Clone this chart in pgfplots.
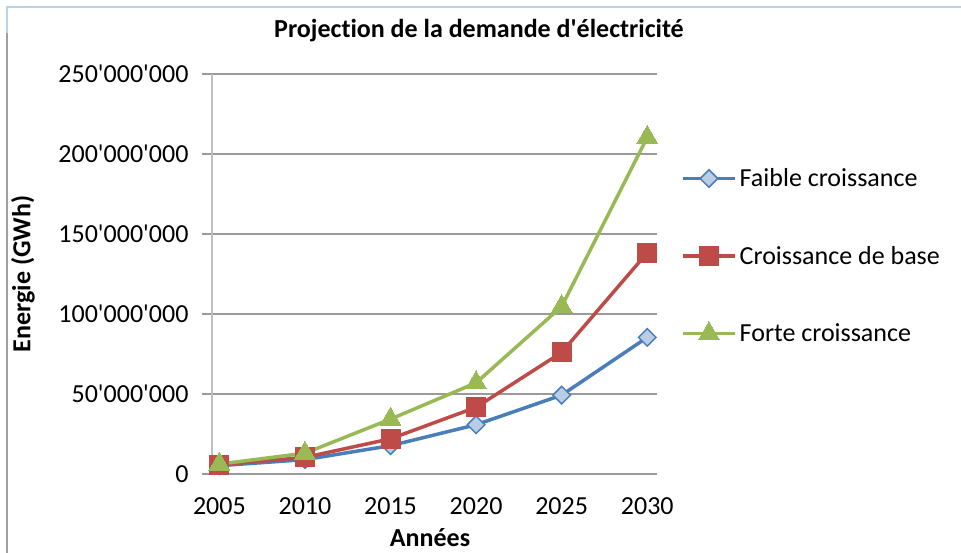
\documentclass[border=0pt]{standalone}
\usepackage{pgfplots}
\pgfplotsset{compat=1.18}
\usepackage{fontspec}
\setmainfont{Carlito}[Ligatures={NoCommon}]
\definecolor{sblue}{HTML}{4A7EBB}
\definecolor{sred}{HTML}{BE4B48}
\definecolor{sgreen}{HTML}{98B954}
\definecolor{dfill}{HTML}{B9CDE5}
\definecolor{gridc}{HTML}{9A9A9A}
\definecolor{axc}{HTML}{BFBFBF}
\definecolor{frameblue}{HTML}{B8D4E8}
\definecolor{framegray}{HTML}{A0A0A0}
\begin{document}
\begin{tikzpicture}[font=\fontsize{26bp}{31bp}\selectfont]
\path[use as bounding box] (0,0) rectangle (961bp,-553bp);
\draw[frameblue, line width=2bp] (6bp,-7bp) -- (961bp,-7bp);
\draw[frameblue, line width=2bp] (7bp,-7bp) -- (7bp,-33bp);
\draw[framegray, line width=2bp] (7bp,-33bp) -- (7bp,-553bp);
\begin{axis}[
  at={(212bp,-474bp)}, anchor=south west,
  scale only axis, width=445bp, height=400bp,
  xmin=2004.57, xmax=2030.57, ymin=0, ymax=250000000,
  clip=false,
  axis y line*=left, axis x line*=bottom,
  axis line style={-},
  y axis line style={draw=axc, line width=2.5bp},
  x axis line style={draw=gridc, line width=1.6bp},
  xtick={2005,2010,2015,2020,2025,2030},
  xticklabels={2005,2010,2015,2020,2025,2030},
  xtick style={draw=none},
  ytick={0,50000000,100000000,150000000,200000000,250000000},
  yticklabels={0,50\textquotesingle 000\textquotesingle 000,100\textquotesingle 000\textquotesingle 000,150\textquotesingle 000\textquotesingle 000,200\textquotesingle 000\textquotesingle 000,250\textquotesingle 000\textquotesingle 000},
  scaled y ticks=false,
  ytick align=outside, major tick length=10bp,
  ytick style={draw=gridc, line width=1.6bp},
  ymajorgrids, grid style={draw=gridc, line width=1.6bp},
  yticklabel style={xshift=-10bp},
  xticklabel style={yshift=-20bp},
  title={Projection de la demande d\textquotesingle électricité},
  title style={at={(axis description cs:0.6,1.115)}, anchor=center, yshift=-9bp, font=\bfseries\fontsize{26bp}{31bp}\selectfont},
  xlabel={Années},
  xlabel style={at={(axis description cs:0.49,-0.16)}, anchor=center, font=\bfseries\fontsize{26bp}{31bp}\selectfont},
  ylabel={Energie (GWh)},
  ylabel style={at={(axis description cs:-0.425,0.5)}, anchor=center, rotate=0, font=\bfseries\fontsize{26bp}{31bp}\selectfont},
  legend style={draw=none, fill=none, at={(1.054,0.545)}, anchor=west, row sep=52bp, inner sep=0pt,
    nodes={inner sep=3bp}},
  legend cell align=left,
  legend image code/.code={\draw[mark repeat=2,mark phase=2] plot coordinates {(0bp,0bp) (26bp,0bp) (52bp,0bp)};},
]
\addplot[sblue, line width=3.5bp, mark=square*, mark size=6.2bp, mark options={rotate=45, fill=dfill, draw=sblue, line width=1.5bp}]
  coordinates {(2005,5.2e6) (2010,9e6) (2015,17.7e6) (2020,30.8e6) (2025,49.3e6) (2030,85.4e6)};
\addlegendentry{Faible croissance}
\addplot[sred, line width=3.5bp, mark=square*, mark size=9.5bp, mark options={fill=sred, draw=sred, line width=0bp}]
  coordinates {(2005,5.8e6) (2010,10.4e6) (2015,22e6) (2020,41.7e6) (2025,76e6) (2030,138.3e6)};
\addlegendentry{Croissance de base}
\addplot[sgreen, line width=3.5bp, mark=triangle*, mark size=12bp, mark options={fill=sgreen, draw=sgreen, line width=0bp}]
  coordinates {(2005,6.2e6) (2010,13e6) (2015,34.3e6) (2020,57e6) (2025,104.7e6) (2030,210.4e6)};
\addlegendentry{Forte croissance}
\end{axis}
\end{tikzpicture}
\end{document}
